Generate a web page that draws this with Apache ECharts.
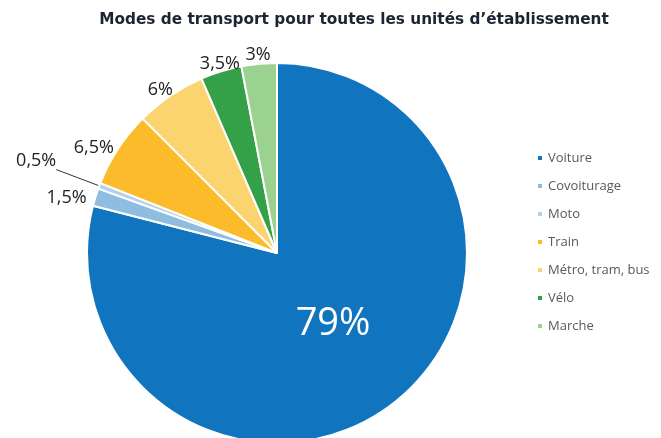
<!DOCTYPE html>
<html><head><meta charset="utf-8">
<script src="https://cdn.jsdelivr.net/npm/echarts@6/dist/echarts.min.js"></script>
<style>html,body{margin:0;padding:0;background:#fff}#c{width:661px;height:438px}</style>
</head><body><div id="c"></div>
<script>
const categories = ['Voiture','Covoiturage','Moto','Train','Métro, tram, bus','Vélo','Marche'];
const values = [79, 1.5, 0.5, 6.5, 6, 3.5, 3];
const labels = ['79%','1,5%','0,5%','6,5%','6%','3,5%','3%'];
const colors = ['#1174be','#8fbde2','#b3d2ec','#fbbb2a','#fcd46f','#34a048','#9cd28f'];
// label nudges (style only)
const labelNudge = [[-4,-6],[0,2],[5,-9],[4,1],[10,-3],[25,-4],[17,-5]];

const data = categories.map((n,i)=>{
  const item = {name:n, value:values[i], itemStyle:{color:colors[i]}};
  if(i===0){
    item.label = {position:'inside', color:'#fff', fontSize:38, fontFamily:'Open Sans'};
  } else if(i===2){
    item.labelLine = {show:true, length:46, length2:0, lineStyle:{color:'#333',width:1}};
  }
  return item;
});

const chart = echarts.init(document.getElementById('c'));
chart.setOption({
  animation:false,
  title:{text:'Modes de transport pour toutes les unités d’établissement', left:349, top:8, textAlign:'center',
    textStyle:{fontFamily:'DejaVu Sans', fontWeight:'bold', fontSize:15.3, color:'#1c2333'}},
  legend:{orient:'vertical', left:531, top:146, icon:'rect', itemWidth:6, itemHeight:6, itemGap:14,
    textStyle:{fontFamily:'Open Sans', fontSize:13, color:'#595959', lineHeight:14}, data:categories},
  series:[{
    type:'pie', center:[277,253], radius:[0,190], startAngle:90, clockwise:true,
    avoidLabelOverlap:false,
    itemStyle:{borderColor:'#fff', borderWidth:2},
    label:{show:true, position:'outside', formatter:p=>labels[p.dataIndex], fontFamily:'Open Sans', fontSize:18, color:'#222'},
    labelLine:{show:false, length:4, length2:0},
    labelLayout:p=>({dx:labelNudge[p.dataIndex][0], dy:labelNudge[p.dataIndex][1]}),
    data:data
  }]
});
</script></body></html>
